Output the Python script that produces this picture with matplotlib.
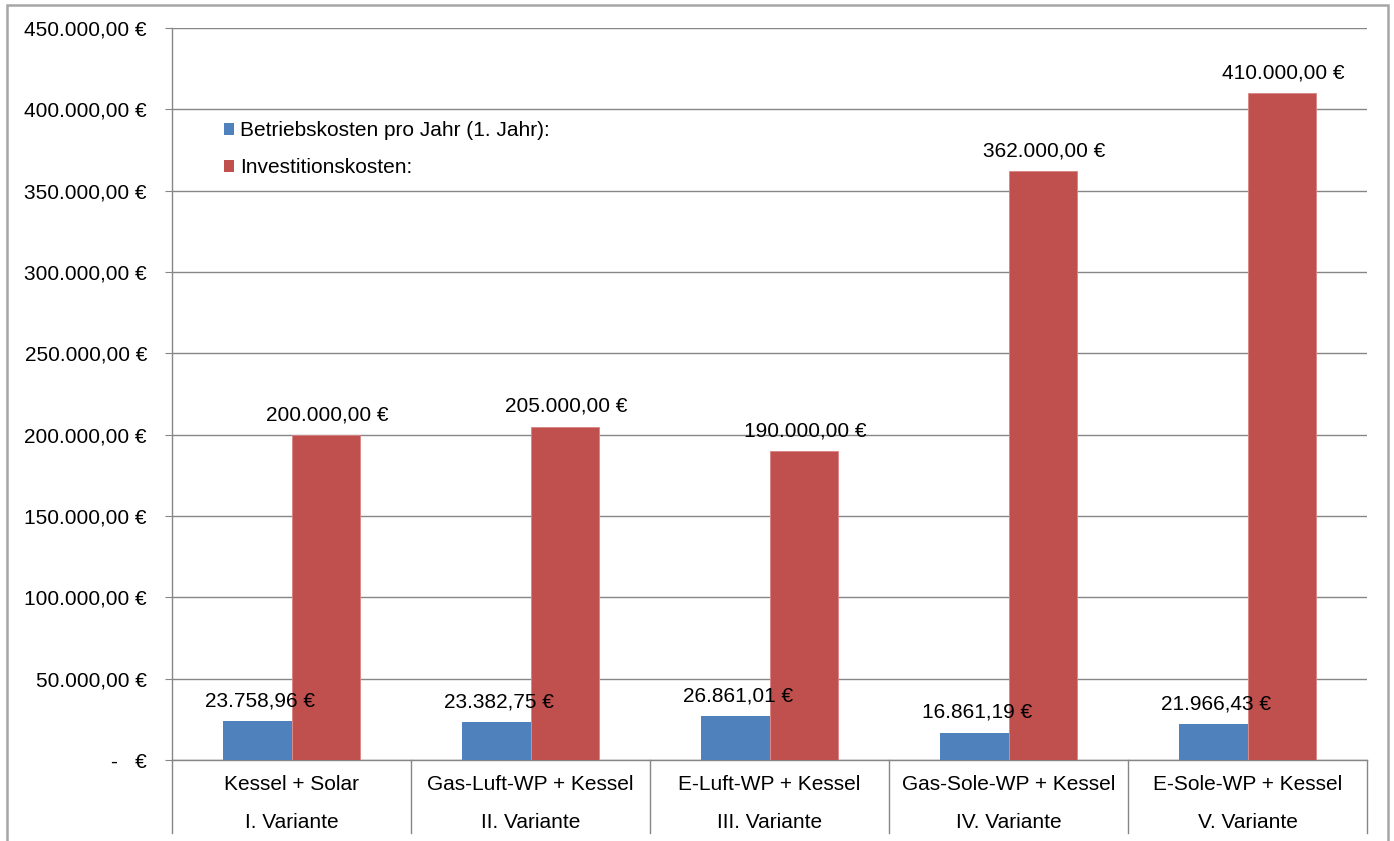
import numpy as np
import matplotlib
matplotlib.use("Agg")
import matplotlib.pyplot as plt
import matplotlib.ticker as mtick
import matplotlib.transforms as mtrans
from matplotlib.patches import Patch, Rectangle

plt.rcParams['font.family'] = ['Liberation Sans', 'DejaVu Sans']
plt.rcParams['font.size'] = 15

# Daten der Varianten
varianten = ["I. Variante", "II. Variante", "III. Variante", "IV. Variante", "V. Variante"]
systeme = ["Kessel + Solar", "Gas-Luft-WP + Kessel", "E-Luft-WP + Kessel",
           "Gas-Sole-WP + Kessel", "E-Sole-WP + Kessel"]
betriebskosten = [23758.96, 23382.75, 26861.01, 16861.19, 21966.43]
investitionskosten = [200000.00, 205000.00, 190000.00, 362000.00, 410000.00]

blau = "#4F81BD"
rot = "#C0504D"
grau = "#868686"


def euro(v):
    # deutsches Format: 12.345,67 €
    s = "{:,.2f}".format(v).replace(",", "X").replace(".", ",").replace("X", ".")
    return s + " €"


def achse_fmt(v, pos):
    if abs(v) < 1e-9:
        return "-   €"
    return euro(v)


fig = plt.figure(figsize=(13.94, 8.41), dpi=100)
ax = fig.add_axes([172 / 1394, 81 / 841, 1195 / 1394, 732 / 841])

x = np.arange(len(systeme))
w = 0.287
b1 = ax.bar(x - w / 2, betriebskosten, width=w, color=blau, zorder=3)
b2 = ax.bar(x + w / 2, investitionskosten, width=w, color=rot,
            edgecolor="#D98583", linewidth=0.6, zorder=3)

# Werte über den Balken
for xi, v in zip(x, betriebskosten):
    ax.annotate(euro(v), (xi - w / 2, v), xytext=(2, 14.5), textcoords="offset points",
                ha="center", va="center", zorder=4)
for xi, v in zip(x, investitionskosten):
    ax.annotate(euro(v), (xi + w / 2, v), xytext=(1, 14.5), textcoords="offset points",
                ha="center", va="center", zorder=4)

ax.set_xlim(-0.5, len(systeme) - 0.5)
ax.set_ylim(0, 450000)
ax.yaxis.set_major_locator(mtick.MultipleLocator(50000))
ax.yaxis.set_major_formatter(mtick.FuncFormatter(achse_fmt))
ax.grid(axis="y", color=grau, linewidth=1.0, zorder=0)
ax.tick_params(axis="y", length=5, color=grau, pad=13)
ax.set_xticks([])

for s in ["top", "right"]:
    ax.spines[s].set_visible(False)
for s in ["left", "bottom"]:
    ax.spines[s].set_color(grau)
    ax.spines[s].set_linewidth(1.0)

# zweistufige Kategorieachse
tr = mtrans.blended_transform_factory(ax.transData, ax.transAxes)
for xi, (sy, va) in enumerate(zip(systeme, varianten)):
    ax.text(xi, -0.034, sy, transform=tr, ha="center", va="center")
    ax.text(xi, -0.086, va, transform=tr, ha="center", va="center")
for xb in np.arange(-0.5, len(systeme), 1.0):
    ax.plot([xb, xb], [0, -0.1], transform=tr, color=grau, linewidth=1.0, clip_on=False)

handles = [Patch(facecolor=blau), Patch(facecolor=rot)]
ax.legend(handles, ["Betriebskosten pro Jahr (1. Jahr):", "Investitionskosten:"],
          loc="upper left", bbox_to_anchor=(52 / 1195, (760 - 121) / 732),
          frameon=False, borderpad=0, borderaxespad=0, handlelength=0.5,
          handleheight=0.5, handletextpad=0.25, labelspacing=0.88)

# Rahmen um das Diagramm
fig.patches.append(Rectangle((7 / 1394, -0.05), 1381 / 1394, (836 / 841) + 0.05,
                             transform=fig.transFigure, fill=False,
                             edgecolor="#A6A6A6", linewidth=1.8))

fig.savefig("out.png", dpi=100)
